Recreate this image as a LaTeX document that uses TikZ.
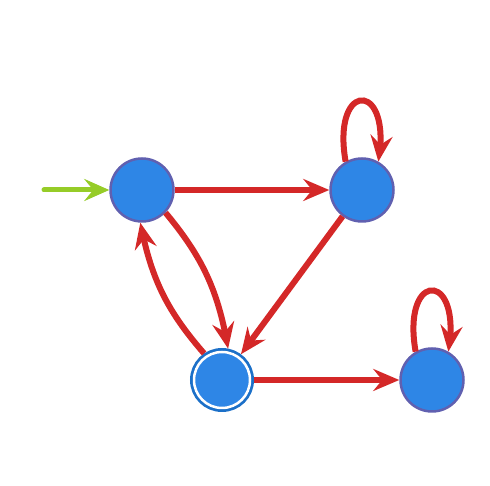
\documentclass[tikz,border=0pt]{standalone}
\usetikzlibrary{arrows.meta,bending}
\definecolor{nodeblue}{HTML}{2E86E6}
\definecolor{nodeborder}{HTML}{6060B0}
\definecolor{accblue}{HTML}{1C70C8}
\definecolor{edgered}{HTML}{D42828}
\definecolor{initgreen}{HTML}{96CC28}
\begin{document}
\begin{tikzpicture}[x=1pt,y=1pt,
  state/.style={circle,fill=nodeblue,draw=nodeborder,line width=2.5pt,minimum size=63pt,inner sep=0pt},
  accept/.style={circle,fill=nodeblue,draw=white,line width=2.5pt,minimum size=56pt,inner sep=0pt,outer sep=4pt,preaction={draw=accblue,line width=8pt}},
  trans/.style={draw=edgered,line width=6pt,-{Stealth[length=26pt,width=22pt,inset=9pt]}},
  init/.style={draw=initgreen,line width=5pt,line cap=round,-{Stealth[length=25pt,width=22pt,inset=9pt]}}]
\useasboundingbox (0,0) rectangle (490,486);
\node[state] (A) at (142,296) {};
\node[state] (B) at (362,296) {};
\node[accept] (C) at (222,106) {};
\node[state] (D) at (432,106) {};
\coordinate (S) at (44,296);
\draw[init] (S) -- (A);
\draw[trans] (A) -- (B);
\draw[trans] (B) -- (C);
\draw[trans] (C) -- (D);
\draw[trans] (A.-44) to[bend left=15] (C.79);
\draw[trans] (C.124) to[bend left=15] (A.-93);
\draw[trans] (B.120) .. controls +(100:83) and +(80:83) .. (B.60);
\draw[trans] (D.120) .. controls +(100:83) and +(80:83) .. (D.60);
\end{tikzpicture}
\end{document}
